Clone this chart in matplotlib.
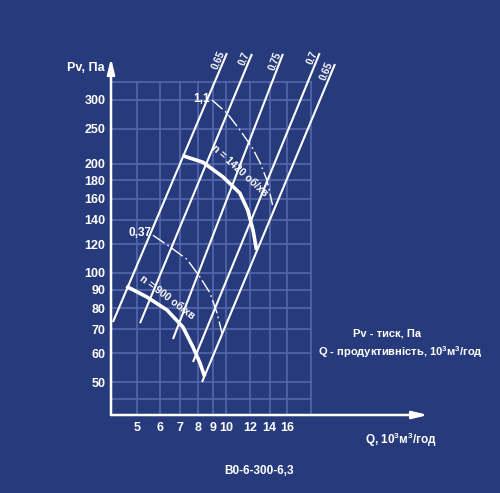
import numpy as np
import matplotlib
matplotlib.use("Agg")
import matplotlib.pyplot as plt

plt.rcParams['font.family'] = ['Liberation Sans Narrow', 'Liberation Sans', 'DejaVu Sans']
plt.rcParams['mathtext.default'] = 'regular'

BG = '#263a7c'
GRID = '#5466ad'
WHITE = 'white'

# axis ticks
x_ticks = [5, 6, 7, 8, 9, 10, 12, 14, 16]
y_ticks = [50, 60, 70, 80, 90, 100, 120, 140, 160, 180, 200, 250, 300]
y_extra_grid = [45]

# efficiency lines (Q, Pv) lower / upper ends
eff_labels = ['0.65', '0.7', '0.75', '0.7', '0.65']
eff_q_low = [4.15, 5.12, 6.61, 7.72, 8.28]
eff_p_low = [73.2, 72.7, 65.7, 56.8, 50.0]
eff_q_high = [10.04, 12.19, 15.5, 20.6, 23.2]
eff_p_high = [404, 402, 402, 404, 377]

# fan curves
q_1420 = [7.20, 8.34, 9.74, 11.1, 11.8, 12.3, 12.6]
p_1420 = [210, 202, 184, 166, 149, 131, 117]
q_900 = [4.66, 5.40, 6.31, 7.14, 7.72, 8.15, 8.41]
p_900 = [91.4, 85.8, 79.0, 70.9, 62.4, 56.4, 52.3]

# motor power curves, kW
q_11 = [8.94, 10.05, 11.1, 12.2, 13.0, 13.7, 14.3]
p_11 = [300, 276, 248, 222, 201, 180, 154]
q_037 = [5.66, 6.46, 7.37, 8.15, 8.81, 9.30, 9.66]
p_037 = [127, 118, 109, 97.4, 88.0, 77.5, 68.3]

fig = plt.figure(figsize=(5, 4.93), dpi=100, facecolor=BG)
ax = fig.add_axes([0.222, 0.1582, 0.658, 0.7809])
ax.set_facecolor(BG)
ax.set_xscale('log')
ax.set_yscale('log')
ax.set_xlim(4.088, 52.37)
ax.set_ylim(40.55, 467.9)
x0, y0 = 4.088, 40.55
q_edge, p_edge = 19.3, 336

# grid (only over the chart field)
for y in y_ticks + y_extra_grid + [p_edge]:
    ax.plot([x0, q_edge], [y, y], color=GRID, lw=1.2, zorder=1)
for x in x_ticks + [q_edge]:
    ax.plot([x, x], [y0, p_edge], color=GRID, lw=1.2, zorder=1)

for s in ax.spines.values():
    s.set_visible(False)
ax.minorticks_off()
ax.set_xticks(x_ticks)
ax.set_xticklabels([str(v) for v in x_ticks])
ax.set_yticks(y_ticks)
ax.set_yticklabels([str(v) for v in y_ticks])
ax.tick_params(length=0, colors=WHITE, labelsize=9)
ax.tick_params(axis='y', pad=4)
ax.tick_params(axis='x', pad=5)
for lab in ax.get_xticklabels() + ax.get_yticklabels():
    lab.set_fontweight('bold')

# axis arrows
ax.annotate('', xy=(0, 0.927), xytext=(0, 0), xycoords='axes fraction',
            arrowprops=dict(arrowstyle='-|>,head_length=0.9,head_width=0.22',
                            color=WHITE, lw=1.8, shrinkA=0, shrinkB=0))
ax.annotate('', xy=(0.9635, 0), xytext=(0, 0), xycoords='axes fraction',
            arrowprops=dict(arrowstyle='-|>,head_length=0.9,head_width=0.22',
                            color=WHITE, lw=1.8, shrinkA=0, shrinkB=0))

# efficiency lines
for i in range(len(eff_labels)):
    ax.plot([eff_q_low[i], eff_q_high[i]], [eff_p_low[i], eff_p_high[i]],
            color=WHITE, lw=1.5, zorder=3, solid_capstyle='butt')
    a = ax.transData.transform((eff_q_low[i], eff_p_low[i]))
    b = ax.transData.transform((eff_q_high[i], eff_p_high[i]))
    ang = np.degrees(np.arctan2(b[1] - a[1], b[0] - a[0]))
    ax.text(eff_q_high[i], eff_p_high[i], eff_labels[i], rotation=ang,
            rotation_mode='anchor', ha='right', va='bottom', color=WHITE,
            fontsize=7, fontweight='bold', zorder=4)

# fan curves
ax.plot(q_1420, p_1420, color=WHITE, lw=2.6, zorder=4, solid_joinstyle='round')
ax.plot(q_900, p_900, color=WHITE, lw=2.6, zorder=4, solid_joinstyle='round')
ax.text(11.11, 191, 'n = 1420 об/хв', rotation=-42, ha='center', va='center',
        color=WHITE, fontsize=7.5, fontweight='bold', zorder=5)
ax.text(6.3, 85.5, 'n = 900 об/хв', rotation=-37, ha='center', va='center',
        color=WHITE, fontsize=7.5, fontweight='bold', zorder=5)

# power curves
ax.plot(q_11, p_11, color=WHITE, lw=1.0, dashes=(10, 2.5, 1.2, 2.5), zorder=3)
ax.plot(q_037, p_037, color=WHITE, lw=1.0, dashes=(10, 2.5, 1.2, 2.5), zorder=3)
ax.text(8.8, 302, '1,1', ha='right', va='center', color=WHITE,
        fontsize=8.5, fontweight='bold')
ax.text(5.6, 129, '0,37', ha='right', va='center', color=WHITE,
        fontsize=8.5, fontweight='bold')

# captions
fig.text(86 / 500, 1 - 68 / 493, 'Pv, Па', ha='center', va='center',
         color=WHITE, fontsize=9, fontweight='bold')
fig.text(401 / 500, 1 - 440 / 493, 'Q, 10$^3$м$^3$/год', ha='center', va='center',
         color=WHITE, fontsize=8.5, fontweight='bold')
fig.text(387 / 500, 1 - 333 / 493, 'Pv - тиск, Па', ha='center', va='center',
         color=WHITE, fontsize=8, fontweight='bold')
fig.text(400 / 500, 1 - 352 / 493, 'Q - продуктивність, 10$^3$м$^3$/год',
         ha='center', va='center', color=WHITE, fontsize=8, fontweight='bold')
fig.text(259 / 500, 1 - 471 / 493, 'В0-6-300-6,3', ha='center', va='center',
         color=WHITE, fontsize=8.5, fontweight='bold')

fig.savefig('out.png', dpi=100, facecolor=BG)
